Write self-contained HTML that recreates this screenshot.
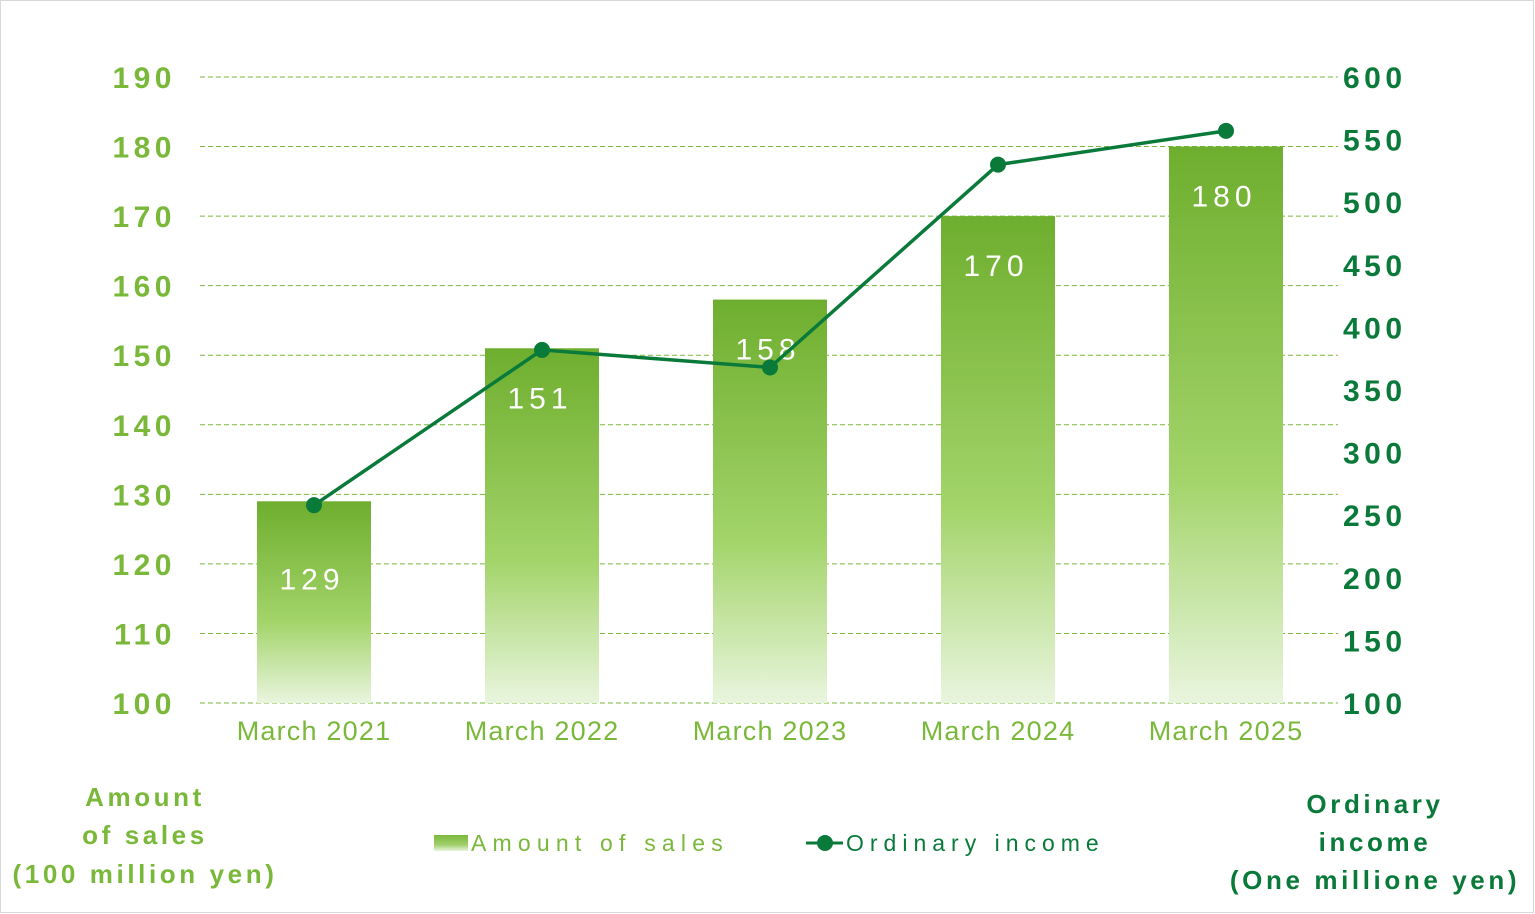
<!DOCTYPE html>
<html><head><meta charset="utf-8"><style>
body{margin:0;background:#fff}
svg{display:block;font-family:"Liberation Sans",sans-serif}
</style></head><body>
<svg id="chart" width="1535" height="914" viewBox="0 0 1535 914">
<defs>
<linearGradient id="bg" x1="0" y1="0" x2="0" y2="1">
<stop offset="0" stop-color="#6eae2e"/><stop offset="0.6" stop-color="#a3d46a"/><stop offset="1" stop-color="#e9f5de"/>
</linearGradient>
<linearGradient id="lg" x1="0" y1="0" x2="0" y2="1">
<stop offset="0" stop-color="#7ab83a"/><stop offset="0.6" stop-color="#9fcf6a"/><stop offset="1" stop-color="#e9f5de"/>
</linearGradient>
</defs>
<rect x="0.5" y="0.5" width="1533" height="912" fill="#fff" stroke="#d8d8d8"/>
<g id="grid"></g><g id="bars"></g><g id="line"></g><g id="axes"></g>
<g fill="#7ab83a" font-weight="bold" font-size="26" text-anchor="middle" letter-spacing="3.6">
<text x="145" y="806">Amount</text><text x="145" y="844">of sales</text><text x="145" y="883">(100 million yen)</text></g>
<g fill="#0a7a3a" font-weight="bold" font-size="26" text-anchor="middle" letter-spacing="3.6">
<text x="1375" y="813">Ordinary</text><text x="1375" y="851">income</text><text x="1375" y="889">(One millione yen)</text></g>
<g>
<rect x="434" y="835" width="34" height="16" fill="url(#lg)"/>
<text x="471" y="851" fill="#7ab83a" font-size="23" letter-spacing="6.2">Amount of sales</text>
<line x1="806" y1="843" x2="843" y2="843" stroke="#0a7a3a" stroke-width="3"/>
<circle cx="825" cy="843" r="8" fill="#0a7a3a"/>
<text x="846" y="851" fill="#0a7a3a" font-size="23" letter-spacing="6">Ordinary income</text>
</g>
</svg>
<script>
const categories=["March 2021","March 2022","March 2023","March 2024","March 2025"];
const sales=[129,151,158,170,180];
const income=[258,382,368,530,557];
const leftTicks=[100,110,120,130,140,150,160,170,180,190];
const rightTicks=[100,150,200,250,300,350,400,450,500,550,600];
const NS="http://www.w3.org/2000/svg";
const y0=703,yTop=77;
const yL=v=>y0-(v-100)/90*(y0-yTop);
const yR=v=>y0-(v-100)/500*(y0-yTop);
const xC=i=>314+i*228;
function mk(tag,attrs,parent,txt){const e=document.createElementNS(NS,tag);for(const k in attrs)e.setAttribute(k,attrs[k]);if(txt!==undefined)e.textContent=txt;document.getElementById(parent).appendChild(e);return e;}
leftTicks.forEach(t=>{
 const l=mk('line',{x1:200,x2:1338,y1:yL(t),y2:yL(t),stroke:'#7ab83a','stroke-width':1,'stroke-dasharray':'5,3'},'grid');
 
 
 const tx=mk('text',{x:176,y:yL(t)+11,'text-anchor':'end',fill:'#7ab83a','font-size':30,'font-weight':'bold','letter-spacing':4.5},'axes',t);
 
 
});
rightTicks.forEach(t=>{
 const tx=mk('text',{x:1343,y:yR(t)+11,fill:'#0a7a3a','font-size':30,'font-weight':'bold','letter-spacing':4.5},'axes',t);
 
 
});
categories.forEach((c,i)=>{
 const b=mk('rect',{x:xC(i)-57,y:yL(sales[i]),width:114,height:y0-yL(sales[i]),fill:'url(#bg)'},'bars');
 
 
 const off=sales[i]<140?88:60;
 const v=mk('text',{x:xC(i)-2,y:yL(sales[i])+off,'text-anchor':'middle',fill:'#fff','font-size':30,'letter-spacing':5},'bars',sales[i]);
 
 
 const cl=mk('text',{x:xC(i),y:740,'text-anchor':'middle',fill:'#7ab83a','font-size':27,'letter-spacing':1.2},'axes',c);
 
 
});
const pl=mk('polyline',{points:income.map((v,i)=>xC(i)+','+yR(v)).join(' '),fill:'none',stroke:'#0a7a3a','stroke-width':3.5},'line');


income.forEach((v,i)=>{
 const p=mk('circle',{cx:xC(i),cy:yR(v),r:8,fill:'#0a7a3a'},'line');
 
 
});
</script>
</body></html>
